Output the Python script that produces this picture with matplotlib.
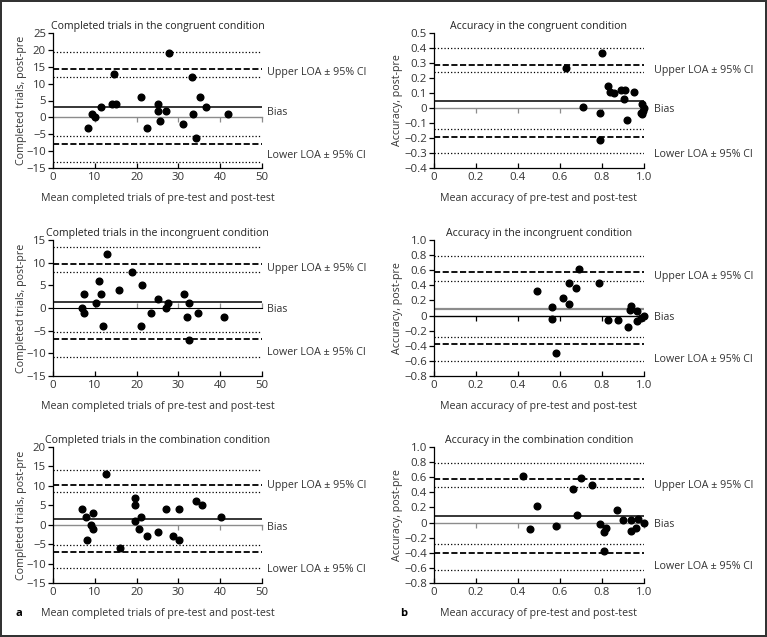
#!/usr/bin/env python3

import numpy as np
import matplotlib
matplotlib.use('Agg')
import matplotlib.pyplot as plt
import matplotlib.transforms as mtransforms
from matplotlib.ticker import FuncFormatter, NullFormatter

plt.rcParams.update({'font.family': ['Open Sans', 'DejaVu Sans'],
                     'font.size': 7.7,
                     'text.color': '#333333',
                     'axes.labelcolor': '#333333',
                     'xtick.labelcolor': '#333333',
                     'ytick.labelcolor': '#333333'})

# ---- completed trials, congruent
comp_cong_x = [8.4, 9.4, 10.0, 11.5, 14.0, 15.1, 14.5, 21.0, 22.6, 25.0, 25.0,
               25.6, 27.0, 27.7, 31.0, 33.2, 33.6, 34.2, 35.2, 36.6, 41.8]
comp_cong_y = [-3, 1, 0, 3, 4, 4, 13, 6, -3, 4, 2, -1, 2, 19, -2, 12, 1, -6, 6, 3, 1]
comp_cong_bias = 3.1
comp_cong_upper = [14.2, 19.3, 11.9]   # LOA, CI high, CI low
comp_cong_lower = [-8.0, -5.6, -13.2]

# ---- completed trials, incongruent
comp_incg_x = [7.0, 7.4, 7.4, 10.4, 10.9, 11.4, 12.0, 13.0, 15.8, 18.9, 21.0,
               21.4, 23.4, 25.0, 27.0, 27.4, 31.4, 32.0, 32.5, 32.5, 34.6, 41.0]
comp_incg_y = [0, -1, 3, 1, 6, 3, -4, 12, 4, 8, -4, 5, -1, 2, 0, 1, 3, -2, 1, -7, -1, -2]
comp_incg_bias = 1.4
comp_incg_upper = [9.6, 13.5, 7.9]
comp_incg_lower = [-6.9, -5.3, -10.8]

# ---- completed trials, combination
comp_comb_x = [7.0, 8.0, 8.2, 9.0, 9.5, 9.6, 12.6, 16.0, 19.6, 19.6, 19.6,
               20.6, 21.1, 22.6, 25.2, 27.1, 28.7, 30.2, 30.2, 34.2, 35.7, 40.2]
comp_comb_y = [4, 2, -4, 0, -1, 3, 13, -6, 7, 5, 1, -1, 2, -3, -2, 4, -3, -4, 4, 6, 5, 2]
comp_comb_bias = 1.55
comp_comb_upper = [10.1, 14.2, 8.4]
comp_comb_lower = [-7.0, -5.1, -11.2]

# ---- accuracy, congruent
acc_cong_x = [0.63, 0.71, 0.80, 0.79, 0.79, 0.83, 0.84, 0.855, 0.89, 0.91,
              0.905, 0.95, 0.92, 0.99, 0.99, 1.0, 0.995, 0.985]
acc_cong_y = [0.27, 0.01, 0.37, -0.03, -0.21, 0.15, 0.11, 0.10, 0.12, 0.12,
              0.06, 0.11, -0.08, 0.03, -0.04, 0.0, -0.02, -0.03]
acc_cong_bias = 0.05
acc_cong_upper = [0.29, 0.40, 0.24]
acc_cong_lower = [-0.19, -0.14, -0.30]

# ---- accuracy, incongruent
acc_incg_x = [0.49, 0.56, 0.56, 0.614, 0.644, 0.644, 0.678, 0.689, 0.58, 0.784,
              0.83, 0.875, 0.924, 0.94, 0.935, 0.968, 0.968, 0.984, 1.0]
acc_incg_y = [0.32, 0.115, -0.04, 0.23, 0.43, 0.15, 0.36, 0.62, -0.50, 0.43,
              -0.06, -0.065, -0.15, 0.12, 0.07, 0.065, -0.07, -0.03, 0.0]
acc_incg_bias = 0.088
acc_incg_upper = [0.57, 0.79, 0.46]
acc_incg_lower = [-0.38, -0.28, -0.60]

# ---- accuracy, combination
acc_comb_x = [0.424, 0.456, 0.489, 0.58, 0.663, 0.68, 0.70, 0.75, 0.79, 0.82,
              0.81, 0.81, 0.87, 0.90, 0.94, 0.94, 0.96, 0.97, 1.0]
acc_comb_y = [0.61, -0.09, 0.22, -0.04, 0.45, 0.10, 0.59, 0.50, -0.02, -0.07,
              -0.13, -0.38, 0.16, 0.04, 0.04, -0.11, -0.07, 0.045, 0.0]
acc_comb_bias = 0.083
acc_comb_upper = [0.575, 0.79, 0.47]
acc_comb_lower = [-0.40, -0.29, -0.63]

comp_xticks = [0, 10, 20, 30, 40, 50]
acc_xticks = [0, 0.2, 0.4, 0.6, 0.8, 1.0]

GRAY = '#8c8c8c'


def fmt_acc(v, pos):
    if abs(v) < 1e-9:
        return '0'
    return f'{v:.1f}'.replace('-', '\u2212')


def fmt_int(v, pos):
    return f'{v:.0f}'.replace('-', '\u2212')


def panel(ax, title, x, y, bias, upper, lower, xticks, yticks, fmt, xlabel, ylabel,
          label_y, label_x, swap=False):
    xmin, xmax = xticks[0], xticks[-1]
    ymin, ymax = yticks[0], yticks[-1]
    ax.set_xlim(xmin, xmax)
    ax.set_ylim(ymin, ymax)

    zero_col, bias_col = (GRAY, 'black') if not swap else ('black', GRAY)
    ax.axhline(bias, color=bias_col, lw=1.1 if not swap else 1.6, zorder=2)
    ax.axhline(upper[0], color='black', lw=1.3, dashes=(3.4, 1.4), zorder=2)
    ax.axhline(lower[0], color='black', lw=1.3, dashes=(3.4, 1.4), zorder=2)
    for v in upper[1:] + lower[1:]:
        ax.axhline(v, color='black', lw=0.9, ls=':', zorder=2)

    ax.plot(x, y, 'o', color='black', ms=4.8, zorder=4, clip_on=False)

    # zero line with its own downward ticks
    sec = ax.secondary_xaxis((0 - ymin) / (ymax - ymin))
    sec.spines['bottom'].set_color(zero_col)
    sec.spines['bottom'].set_linewidth(1.0)
    sec.set_xticks(xticks[1:])
    sec.xaxis.set_major_formatter(NullFormatter())
    sec.tick_params(direction='out', length=3.5, width=0.9, color=zero_col,
                    labelbottom=False, labeltop=False)

    for s in ['top', 'right']:
        ax.spines[s].set_visible(False)
    ax.spines['left'].set_linewidth(0.9)
    ax.spines['bottom'].set_linewidth(0.9)
    ax.set_xticks(xticks)
    ax.set_yticks(yticks)
    ax.xaxis.set_major_formatter(FuncFormatter(fmt_acc if xticks[-1] == 1.0 else fmt_int))
    ax.yaxis.set_major_formatter(FuncFormatter(fmt))
    ax.tick_params(axis='both', labelsize=8.2)
    ax.tick_params(axis='x', direction='in', length=3.5, width=0.9, pad=3)
    ax.tick_params(axis='y', direction='out', length=3.5, width=0.9, pad=1.5)

    ax.set_title(title, fontsize=7.6, pad=3, color='#222222')
    ax.set_xlabel(xlabel, fontsize=7.7)
    ax.set_ylabel(ylabel, fontsize=7.7)
    ax.xaxis.set_label_coords(0.5, -0.185)

    trans = mtransforms.blended_transform_factory(ax.transAxes, ax.transAxes)
    for txt, yy in zip(['Upper LOA \u00b1 95% CI', 'Bias', 'Lower LOA \u00b1 95% CI'], label_y):
        ax.text(label_x, yy, txt, transform=trans, ha='left', va='center', fontsize=7.7)


fig = plt.figure(figsize=(7.67, 6.37), dpi=100, edgecolor='#333333', linewidth=1.5)

W, H = 767.0, 637.0
cols = [(53, 209), (434, 210)]
rows = [(33, 168), (240, 376), (447, 583)]

comp_ylab = 'Completed trials, post-pre'
comp_xlab = 'Mean completed trials of pre-test and post-test'
acc_ylab = 'Accuracy, post-pre'
acc_xlab = 'Mean accuracy of pre-test and post-test'

left = [
    ('Completed trials in the congruent condition', comp_cong_x, comp_cong_y, comp_cong_bias,
     comp_cong_upper, comp_cong_lower, list(range(-15, 26, 5)), (0.71, 0.41, 0.09), False),
    ('Completed trials in the incongruent condition', comp_incg_x, comp_incg_y, comp_incg_bias,
     comp_incg_upper, comp_incg_lower, list(range(-15, 16, 5)), (0.79, 0.49, 0.17), False),
    ('Completed trials in the combination condition', comp_comb_x, comp_comb_y, comp_comb_bias,
     comp_comb_upper, comp_comb_lower, list(range(-15, 21, 5)), (0.72, 0.41, 0.10), False),
]
right = [
    ('Accuracy in the congruent condition', acc_cong_x, acc_cong_y, acc_cong_bias,
     acc_cong_upper, acc_cong_lower, list(np.round(np.arange(-0.4, 0.51, 0.1), 1)),
     (0.72, 0.43, 0.10), False),
    ('Accuracy in the incongruent condition', acc_incg_x, acc_incg_y, acc_incg_bias,
     acc_incg_upper, acc_incg_lower, list(np.round(np.arange(-0.8, 1.01, 0.2), 1)),
     (0.73, 0.43, 0.125), True),
    ('Accuracy in the combination condition', acc_comb_x, acc_comb_y, acc_comb_bias,
     acc_comb_upper, acc_comb_lower, list(np.round(np.arange(-0.8, 1.01, 0.2), 1)),
     (0.72, 0.43, 0.12), False),
]

for r, (top, bot) in enumerate(rows):
    for c, spec in enumerate([left[r], right[r]]):
        x0, w = cols[c]
        ax = fig.add_axes([x0 / W, 1 - bot / H, w / W, (bot - top) / H])
        title, x, y, bias, up, lo, yticks, label_y, swap = spec
        if c == 0:
            panel(ax, title, x, y, bias, up, lo, comp_xticks, yticks, fmt_int,
                  comp_xlab, comp_ylab, label_y, 1.025, swap)
            ax.yaxis.set_label_coords(-0.125, 0.5)
        else:
            panel(ax, title, x, y, bias, up, lo, acc_xticks, yticks, fmt_acc,
                  acc_xlab, acc_ylab, label_y, 1.048, swap)
            ax.yaxis.set_label_coords(-0.148, 0.5)

fig.text(15 / W, 1 - 613 / H, 'a', fontsize=8, fontweight='bold', color='black', va='center')
fig.text(400 / W, 1 - 613 / H, 'b', fontsize=8, fontweight='bold', color='black', va='center')

fig.savefig('out.png', dpi=100, edgecolor=fig.get_edgecolor())
